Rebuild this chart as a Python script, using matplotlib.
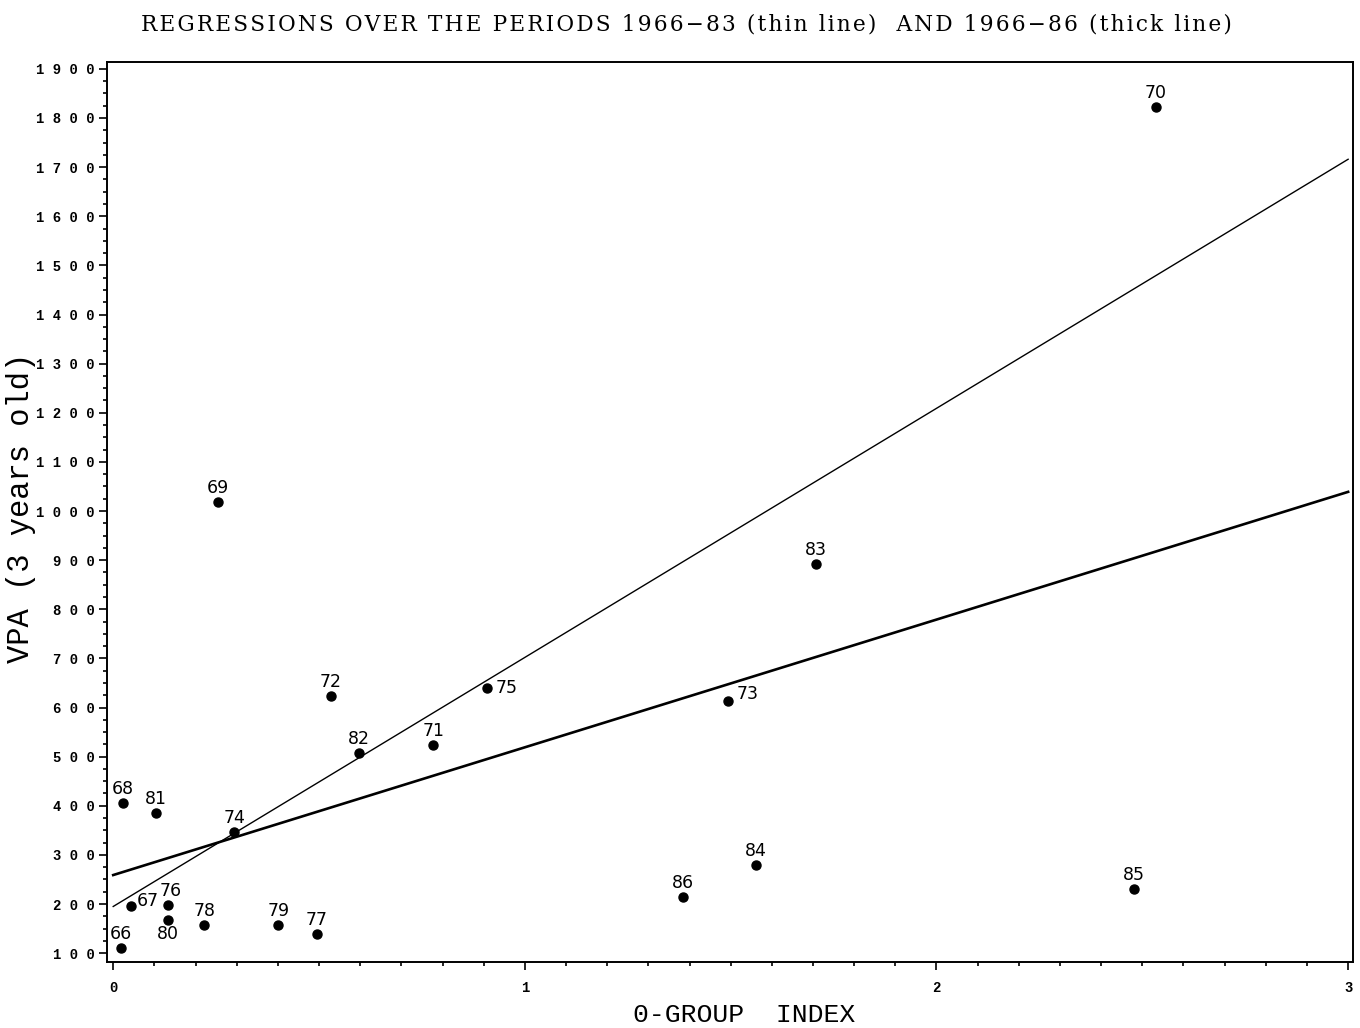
import numpy as np
import matplotlib.pyplot as plt
from matplotlib.ticker import MultipleLocator, FuncFormatter

# year labels, 0-group index and VPA (3 years old)
years = ['66', '67', '68', '69', '70', '71', '72', '73', '74', '75', '76',
         '77', '78', '79', '80', '81', '82', '83', '84', '85', '86']
ogroup = [0.019, 0.043, 0.023, 0.255, 2.533, 0.778, 0.528, 1.493, 0.294, 0.909, 0.133,
          0.494, 0.221, 0.401, 0.133, 0.103, 0.598, 1.707, 1.561, 2.480, 1.383]
vpa = [110, 195, 405, 1018, 1822, 523, 623, 613, 347, 639, 198,
       140, 157, 157, 168, 386, 507, 893, 280, 230, 214]

# label offsets (points) - most labels sit just above the dot
offsets = {'67': (12, 4), '75': (14, 0), '73': (14, 5), '80': (0, -10), '76': (2, 10)}

# regression lines: intercept, slope
thin_fit = [195, 507]    # 1966-83
thick_fit = [259, 260]   # 1966-86

title = 'REGRESSIONS OVER THE PERIODS 1966\u221283 (thin line)  AND 1966\u221286 (thick line)'


def spaced(s, gap='\u200a'):
    # plotter text is letter-spaced, fake it with hair spaces
    return gap.join(s)


fig = plt.figure(figsize=(13.6, 10.28), dpi=100)
ax = fig.add_axes([0.0787, 0.0642, 0.9162, 0.8755])

xl = np.array([0, 3])
ax.plot(xl, thin_fit[0] + thin_fit[1] * xl, color='black', lw=1.0)
ax.plot(xl, thick_fit[0] + thick_fit[1] * xl, color='black', lw=1.9)

ax.plot(ogroup, vpa, 'o', color='black', markersize=6.5)
for lab, x, y in zip(years, ogroup, vpa):
    dx, dy = offsets.get(lab, (0, 10))
    ax.annotate(lab, (x, y), xytext=(dx, dy), textcoords='offset points',
                ha='center', va='center', fontsize=12.5, family='DejaVu Sans')

ax.set_xlim(-0.015, 3.012)
ax.set_ylim(82, 1914)
ax.xaxis.set_major_locator(MultipleLocator(1))
ax.xaxis.set_minor_locator(MultipleLocator(0.1))
ax.yaxis.set_major_locator(MultipleLocator(100))
ax.yaxis.set_minor_locator(MultipleLocator(25))
ax.yaxis.set_major_formatter(FuncFormatter(lambda v, p: ' '.join(str(int(v)))))
ax.xaxis.set_major_formatter(FuncFormatter(lambda v, p: str(int(v))))

ax.tick_params(which='both', direction='out', width=1.2)
ax.tick_params(which='major', length=6)
ax.tick_params(which='minor', length=3)
ax.tick_params(axis='y', pad=3)
ax.tick_params(axis='x', pad=8)
for t in ax.get_yticklabels() + ax.get_xticklabels():
    t.set_family('Liberation Mono')
    t.set_fontweight('bold')
    t.set_fontsize(10)
for s in ax.spines.values():
    s.set_linewidth(1.4)

ax.set_xlabel('0-GROUP  INDEX', family='Liberation Mono', fontsize=19, va='center')
ax.xaxis.set_label_coords(0.5116, -0.059)
ax.set_ylabel('VPA (3 years old)', family='Liberation Mono', fontsize=22, va='center')
ax.yaxis.set_label_coords(-0.069, 0.505)
fig.text(0.505, 0.976, spaced(title), ha='center', va='center',
         family='DejaVu Serif', fontsize=15.6)

fig.savefig('out.png', dpi=100)
